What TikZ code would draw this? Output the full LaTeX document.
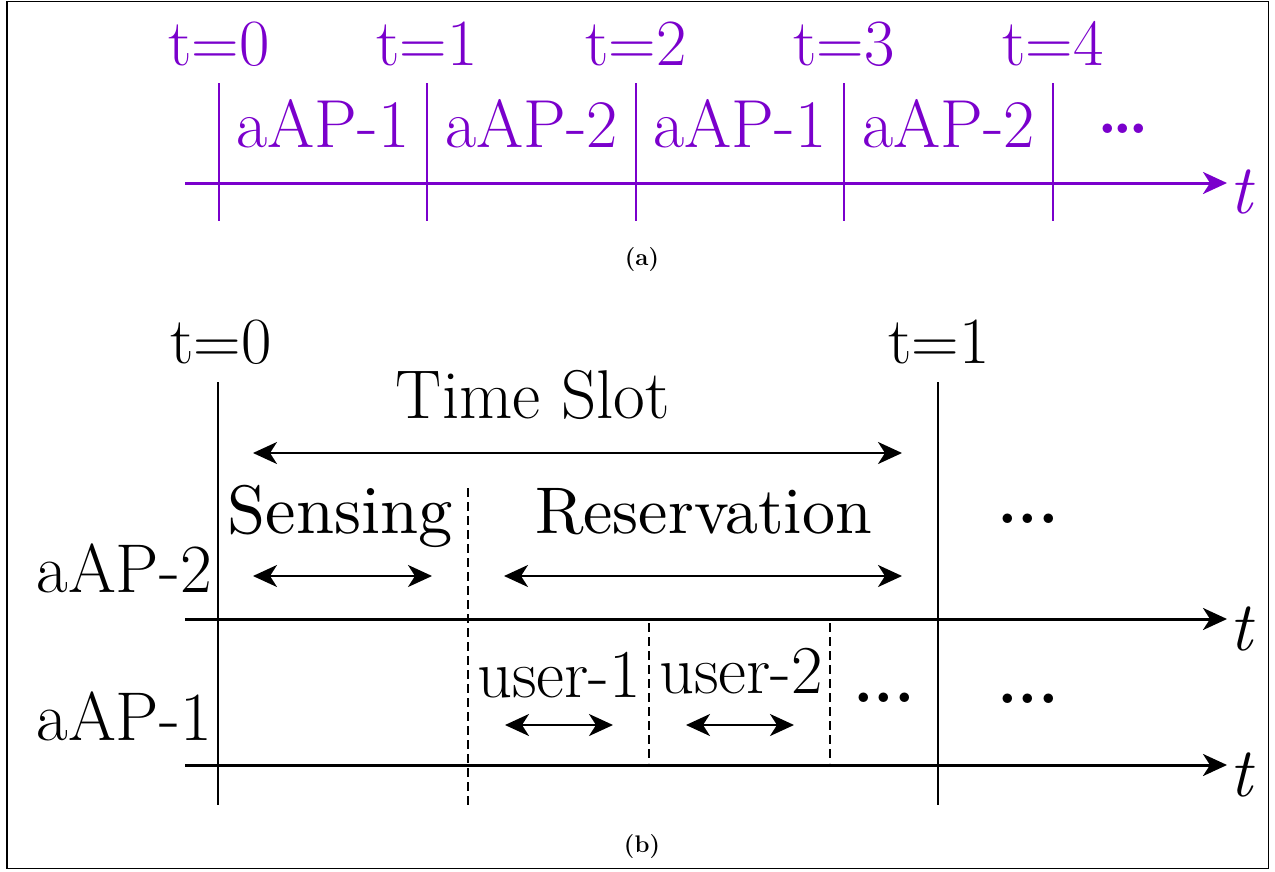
\documentclass[tikz,border=0pt]{standalone}
\usepackage{fontspec}
\newfontfamily\widerm{lmroman10-regular.otf}
\usetikzlibrary{arrows.meta}
\definecolor{slotpurple}{RGB}{122,0,204}
\begin{document}
\begin{tikzpicture}[x=1pt,y=-1pt,
  lbl/.style={inner sep=0pt,font=\fontsize{66}{70}\selectfont},
  aplbl/.style={inner sep=0pt,font=\fontsize{68}{72}\selectfont},
  phaselbl/.style={inner sep=0pt,font=\fontsize{66}{70}\selectfont\widerm},
  tvar/.style={inner sep=0pt,font=\fontsize{70}{74}\selectfont\itshape},
  dotlbl/.style={inner sep=0pt,font=\fontsize{66}{70}\selectfont\bfseries},
  captxt/.style={inner sep=0pt,font=\fontsize{24}{28}\selectfont\bfseries},
  taxis/.style={line width=3pt,-{Stealth[length=24pt,width=22pt,inset=7pt]}},
  tickln/.style={line width=2.4pt},
  spanarr/.style={line width=2.4pt,{Stealth[length=24pt,width=22pt,inset=7pt]}-{Stealth[length=24pt,width=22pt,inset=7pt]}},
  splitln/.style={line width=2pt,dash pattern=on 9pt off 5pt},
]
\useasboundingbox (0,0) rectangle (1275,871);
\draw[line width=1.2pt] (7,1.5) rectangle (1268.5,868.5);

% ---------- (a) slot assignment over time ----------
\begin{scope}[slotpurple]
  \coordinate (aS) at (185,183);
  \coordinate (aE) at (1227,183);
  \draw[taxis] (aS) -- (aE);
  \node[tvar,anchor=base west] (at) at (1229,213) {t};
  \foreach \i/\x in {0/219,1/427,2/636,3/844,4/1053}{
    \coordinate (atop\i) at (\x,83);
    \coordinate (abot\i) at (\x,221);
    \draw[tickln] (atop\i) -- (abot\i);
    \node[lbl,anchor=base] (alab\i) at (\x,65) {t=\i};
  }
  \node[aplbl,anchor=base] (as1) at (323,147) {aAP-1};
  \node[aplbl,anchor=base] (as2) at (531.5,147) {aAP-2};
  \node[aplbl,anchor=base] (as3) at (740,147) {aAP-1};
  \node[aplbl,anchor=base] (as4) at (948.5,147) {aAP-2};
  \node[dotlbl,anchor=base] (adots) at (1123,133) {.\kern-0.08em.\kern-0.08em.};
\end{scope}
\node[captxt,anchor=base] (capa) at (642,265) {(a)};

% ---------- (b) structure of one time slot ----------
\coordinate (uS) at (185,619);
\coordinate (uE) at (1227,619);
\coordinate (lS) at (185,765);
\coordinate (lE) at (1227,765);
\draw[taxis] (uS) -- (uE);
\draw[taxis] (lS) -- (lE);
\node[tvar,anchor=base west] (ut) at (1229,650) {t};
\node[tvar,anchor=base west] (lt) at (1229,796) {t};

\coordinate (b0top) at (218,382);
\coordinate (b0bot) at (218,805);
\coordinate (b1top) at (938,382);
\coordinate (b1bot) at (938,805);
\draw[tickln] (b0top) -- (b0bot);
\draw[tickln] (b1top) -- (b1bot);
\node[lbl,anchor=base] (bt0) at (221,363) {t=0};
\node[lbl,anchor=base] (bt1) at (939,363) {t=1};

\coordinate (stop) at (468,488);
\coordinate (sbot) at (468,805);
\draw[splitln] (stop) -- (sbot);
\coordinate (u1top) at (649,623);
\coordinate (u1bot) at (649,763);
\coordinate (u2top) at (830,623);
\coordinate (u2bot) at (830,763);
\draw[splitln] (u1top) -- (u1bot);
\draw[splitln] (u2top) -- (u2bot);

\node[lbl,anchor=base,font=\fontsize{69}{73}\selectfont] (slot) at (533,418) {Time Slot};
\coordinate (slotL) at (253,453);
\coordinate (slotR) at (902,453);
\draw[spanarr] (slotL) -- (slotR);

\node[phaselbl,anchor=base,font=\fontsize{68.5}{72}\selectfont\widerm] (sens) at (340,533) {Sensing};
\node[phaselbl,anchor=base] (resv) at (703.5,533) {Reservation};
\coordinate (sensL) at (253,576);
\coordinate (sensR) at (432,576);
\coordinate (resvL) at (504,576);
\coordinate (resvR) at (902,576);
\draw[spanarr] (sensL) -- (sensR);
\draw[spanarr] (resvL) -- (resvR);

\node[aplbl,anchor=base east,font=\fontsize{69}{73}\selectfont] (ap2) at (212,592) {aAP-2};
\node[aplbl,anchor=base east,font=\fontsize{69}{73}\selectfont] (ap1) at (212,740) {aAP-1};

\node[aplbl,anchor=base,font=\fontsize{68.5}{72}\selectfont] (usr1) at (559,697) {user-1};
\node[aplbl,anchor=base,font=\fontsize{68.5}{72}\selectfont] (usr2) at (741,693) {user-2};
\coordinate (usr1L) at (505,725);
\coordinate (usr1R) at (613,725);
\coordinate (usr2L) at (686,725);
\coordinate (usr2R) at (794,725);
\draw[spanarr] (usr1L) -- (usr1R);
\draw[spanarr] (usr2L) -- (usr2R);

\node[dotlbl,anchor=base] (udots) at (884,702) {...};
\node[dotlbl,anchor=base] (rdots1) at (1028,523.5) {...};
\node[dotlbl,anchor=base] (rdots2) at (1028,703) {...};

\node[captxt,anchor=base] (capb) at (642,852) {(b)};
\end{tikzpicture}
\end{document}
